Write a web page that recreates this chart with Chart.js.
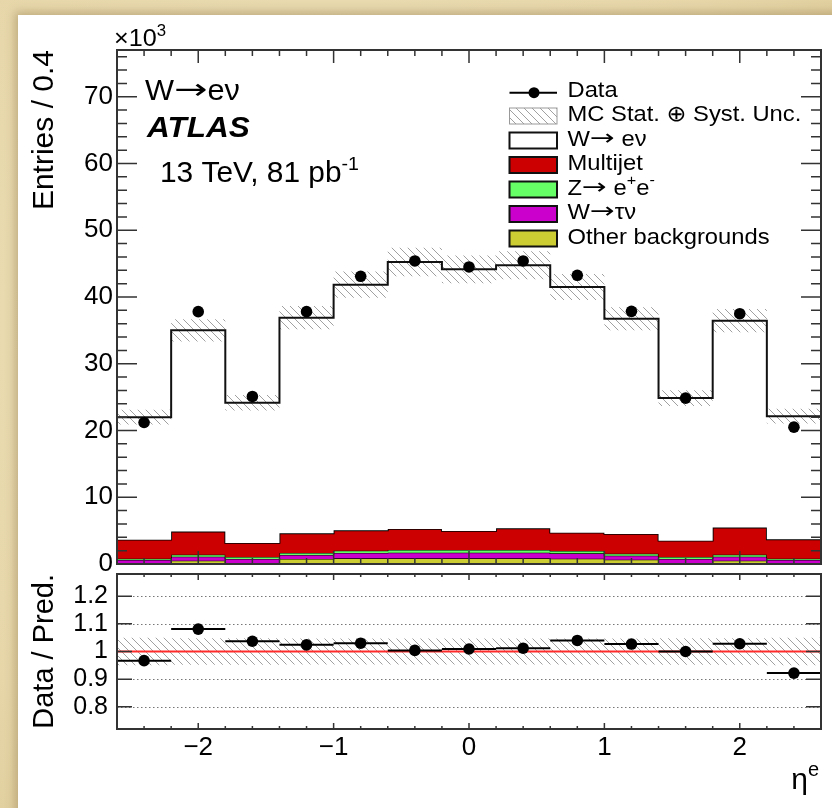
<!DOCTYPE html>
<html><head><meta charset="utf-8">
<script src="https://cdn.jsdelivr.net/npm/chart.js@4.4.1/dist/chart.umd.min.js"></script>
<style>
html,body{margin:0;padding:0;}
body{width:832px;height:808px;overflow:hidden;position:relative;
 background:radial-gradient(ellipse at 40% 40%, #efe2bd 0%, #e6d6a8 70%, #ddca98 100%);}
#card{position:absolute;left:18px;top:15px;width:840px;height:810px;background:#fff;
 box-shadow:0 0 9px 3px rgba(140,115,70,0.45);}
#main{position:absolute;left:0;top:0;}
#ratio{position:absolute;left:0;top:570px;}
</style></head><body>
<div id="card"></div>
<canvas id="main" width="832" height="582"></canvas>
<canvas id="ratio" width="832" height="238"></canvas>
<script>
// ---------- data (entries in units of 10^3 per 0.4 in eta) ----------
const binEdges   = [-2.6,-2.2,-1.8,-1.4,-1.0,-0.6,-0.2,0.2,0.6,1.0,1.4,1.8,2.2,2.6];
const dataCounts = [21.2,37.8,25.1,37.8,43.1,45.4,44.5,45.4,43.25,37.85,24.85,37.5,20.5];
const wenu       = [18.35,30.15,21.0,32.3,36.8,40.0,39.2,39.4,36.8,32.25,21.35,31.0,18.45];
const multijet   = [2.85,3.45,2.1,2.95,3.05,3.15,2.85,3.25,2.75,2.95,2.45,4.05,2.9];
const zee        = [0.2,0.3,0.3,0.3,0.35,0.4,0.4,0.4,0.35,0.3,0.3,0.3,0.2];
const wtaunu     = [0.5,0.6,0.6,0.6,0.8,0.85,0.85,0.85,0.8,0.6,0.6,0.6,0.5];
const otherBkg   = [0.1,0.5,0.15,0.75,0.85,0.85,0.85,0.85,0.8,0.65,0.15,0.5,0.1];
const uncRel     = [0.05,0.048,0.048,0.047,0.047,0.047,0.047,0.047,0.047,0.047,0.048,0.048,0.05];
const ratioVals  = [0.967,1.081,1.037,1.024,1.030,1.004,1.009,1.012,1.040,1.027,1.000,1.028,0.922];
const yTicksMain = [0,10,20,30,40,50,60,70];
const yTicksRatio = [0.8,0.9,1,1.1,1.2];
const yTickRatioLabels = ['0.8','0.9','1','1.1','1.2'];
const xTicks = [-2,-1,0,1,2];
const xTickLabels = ['\u22122','\u22121','0','1','2'];

// ---------- helpers ----------
const FONT = '"Liberation Sans", Arial, Helvetica, sans-serif';
const SYM = '"DejaVu Sans", sans-serif';
const ARROW = '\u2192';
const nb = dataCounts.length;
const centers = binEdges.slice(0, nb).map((e, i) => (e + binEdges[i + 1]) / 2);
const stepPts = vals => vals.map((v, i) => ({x: binEdges[i], y: v})).concat([{x: binEdges[nb], y: vals[nb - 1]}]);
const addArr = (a, b) => a.map((v, i) => v + b[i]);
const c1 = otherBkg.slice();
const c2 = addArr(c1, wtaunu);
const c3 = addArr(c2, zee);
const c4 = addArr(c3, multijet);
const total = addArr(c4, wenu);

function makeHatch(canvasId) {
  const c = document.createElement('canvas');
  c.width = 8; c.height = 8;
  const g = c.getContext('2d');
  g.strokeStyle = '#a0a0a0'; g.lineWidth = 1;
  g.beginPath();
  g.moveTo(-1, -1); g.lineTo(9, 9);
  g.moveTo(-1, 7); g.lineTo(1, 9);
  g.moveTo(7, -1); g.lineTo(9, 1);
  g.stroke();
  return document.getElementById(canvasId).getContext('2d').createPattern(c, 'repeat');
}
const hatchMain = makeHatch('main');
const hatchRatio = makeHatch('ratio');

// parts: {t, sup, f (family), sx (horizontal scale), dy}
function richText(ctx, x, y, parts, size, opts) {
  opts = opts || {};
  const style = opts.style || '';
  const gsx = opts.sx || 1;
  const fnt = p => `${style} ${p.sup ? Math.round(size * 0.66) : size}px ${p.f || FONT}`;
  const widths = parts.map(p => { ctx.font = fnt(p); return ctx.measureText(p.t).width * (p.sx || 1); });
  const tot = widths.reduce((a, b) => a + b, 0) * gsx;
  const x0 = opts.align === 'right' ? x - tot : x;
  ctx.save();
  ctx.translate(x0, y); ctx.scale(gsx, 1);
  ctx.textBaseline = 'alphabetic'; ctx.textAlign = 'left';
  ctx.fillStyle = '#000';
  let px = 0;
  parts.forEach((p, i) => {
    ctx.save();
    ctx.font = fnt(p);
    ctx.translate(px, (p.sup ? -size * 0.42 : 0) + (p.dy || 0));
    ctx.scale(p.sx || 1, 1);
    ctx.fillText(p.t, 0, 0);
    ctx.restore();
    px += widths[i];
  });
  ctx.restore();
}

function drawFrameTicks(chart, cfg) {
  const {ctx, chartArea: a} = chart;
  const x = chart.scales.x, y = chart.scales.y;
  ctx.save();
  ctx.strokeStyle = '#333'; ctx.lineWidth = 1.5;
  ctx.beginPath();
  for (let k = 0; k <= cfg.yN; k++) {
    const v = cfg.y0 + k * cfg.yStep;
    const maj = cfg.yMajor.some(m => Math.abs(m - v) < 1e-6);
    const L = maj ? cfg.yMaj : cfg.yMin;
    const py = y.getPixelForValue(v);
    if (py < a.top + 1 || py > a.bottom - 1) continue;
    ctx.moveTo(a.left, py); ctx.lineTo(a.left + L, py);
    ctx.moveTo(a.right, py); ctx.lineTo(a.right - L, py);
  }
  for (let k = 0; k <= 26; k++) {
    const v = -2.6 + k * 0.2;
    const maj = Math.abs(v - Math.round(v)) < 1e-6;
    const L = maj ? cfg.xMaj : cfg.xMin;
    const px = x.getPixelForValue(v);
    if (px < a.left + 1 || px > a.right - 1) continue;
    ctx.moveTo(px, a.top); ctx.lineTo(px, a.top + L);
    ctx.moveTo(px, a.bottom); ctx.lineTo(px, a.bottom - L);
  }
  ctx.stroke();
  ctx.lineWidth = 2;
  ctx.strokeRect(a.left, a.top, a.right - a.left, a.bottom - a.top);
  ctx.restore();
}

const lineDS = (label, vals, fill, bg, order, bw, bc) => ({
  type: 'line', label, data: stepPts(vals), stepped: 'before', fill: fill,
  backgroundColor: bg, borderColor: bc || '#000', borderWidth: bw, pointRadius: 0, order: order
});
const noPad = s => { s.paddingTop = 0; s.paddingBottom = 0; };

// ---------- main panel ----------
const mainPlugin = {
  id: 'mainDecor',
  afterDatasetsDraw(chart) {
    drawFrameTicks(chart, {y0: 0, yStep: 2, yN: 38, yMajor: yTicksMain, yMaj: 20, yMin: 10, xMaj: 13, xMin: 6});
  },
  afterDraw(chart) {
    const ctx = chart.ctx;
    richText(ctx, 114, 46, [{t: '\u00d710'}, {t: '3', sup: true}], 24, {sx: 1.05});
    ctx.save();
    ctx.translate(53, 50); ctx.rotate(-Math.PI / 2);
    ctx.font = `30px ${FONT}`; ctx.fillStyle = '#000';
    ctx.textAlign = 'right'; ctx.textBaseline = 'alphabetic';
    ctx.fillText('Entries / 0.4', 0, 0);
    ctx.restore();
    richText(ctx, 145, 100, [{t: 'W'}, {t: ARROW, f: SYM, sx: 1.3, dy: -1}, {t: 'e\u03bd'}], 29, {sx: 1.06});
    richText(ctx, 147, 137, [{t: 'ATLAS'}], 30, {style: 'italic bold', sx: 1.05});
    richText(ctx, 160, 182, [{t: '13 TeV, 81 pb'}, {t: '-1', sup: true}], 29, {sx: 1.03});
    // legend
    const bx0 = 509.5, bx1 = 557, tx = 567.5;
    const base = [96.7, 121, 145.5, 170, 194.5, 219, 243.5];
    ctx.save();
    ctx.strokeStyle = '#000'; ctx.lineWidth = 2;
    ctx.beginPath(); ctx.moveTo(bx0, base[0] - 4); ctx.lineTo(bx1, base[0] - 4); ctx.stroke();
    ctx.fillStyle = '#000'; ctx.beginPath(); ctx.arc(534, base[0] - 4, 5.5, 0, Math.PI * 2); ctx.fill();
    const bh = 16;
    const cy = base[1] - 5;
    ctx.fillStyle = hatchMain; ctx.fillRect(bx0, cy - bh / 2, bx1 - bx0, bh);
    ctx.strokeStyle = '#999'; ctx.lineWidth = 1; ctx.strokeRect(bx0, cy - bh / 2, bx1 - bx0, bh);
    const boxCols = ['#ffffff', '#cc0000', '#66ff66', '#cc00cc', '#cccc33'];
    boxCols.forEach((c, i) => {
      const yy = base[i + 2] - 5;
      ctx.fillStyle = c; ctx.fillRect(bx0, yy - bh / 2, bx1 - bx0, bh);
      ctx.strokeStyle = '#111'; ctx.lineWidth = 2; ctx.strokeRect(bx0, yy - bh / 2, bx1 - bx0, bh);
    });
    ctx.restore();
    const ls = 22, o = {sx: 1.08};
    const arr = {t: ARROW, f: SYM, sx: 1.25, dy: -1};
    richText(ctx, tx, base[0], [{t: 'Data'}], ls, o);
    richText(ctx, tx, base[1], [{t: 'MC Stat. '}, {t: '\u2295', f: SYM}, {t: ' Syst. Unc.'}], ls, o);
    richText(ctx, tx, base[2], [{t: 'W'}, arr, {t: ' e\u03bd'}], ls, o);
    richText(ctx, tx, base[3], [{t: 'Multijet'}], ls, o);
    richText(ctx, tx, base[4], [{t: 'Z'}, arr, {t: ' e'}, {t: '+', sup: true}, {t: 'e'}, {t: '-', sup: true}], ls, o);
    richText(ctx, tx, base[5], [{t: 'W'}, arr, {t: '\u03c4\u03bd'}], ls, o);
    richText(ctx, tx, base[6], [{t: 'Other backgrounds'}], ls, o);
  }
};

new Chart(document.getElementById('main'), {
  type: 'line',
  data: {
    datasets: [
      lineDS('Other backgrounds', c1, 'origin', '#cccc33', 20, 1.2),
      lineDS('W\u2192\u03c4\u03bd', c2, '-1', '#cc00cc', 19, 1.2),
      lineDS('Z\u2192ee', c3, '-1', '#66ff66', 18, 1.2),
      lineDS('Multijet', c4, '-1', '#cc0000', 17, 1.8),
      lineDS('W\u2192e\u03bd', total, '-1', '#ffffff', 16, 0, 'rgba(0,0,0,0)'),
      lineDS('unc up', total.map((v, i) => v * (1 + uncRel[i])), false, 'rgba(0,0,0,0)', 15, 0, 'rgba(0,0,0,0)'),
      lineDS('unc down', total.map((v, i) => v * (1 - uncRel[i])), '-1', hatchMain, 14, 0, 'rgba(0,0,0,0)'),
      lineDS('MC total', total, false, 'rgba(0,0,0,0)', 13, 2, '#111'),
      {type: 'scatter', label: 'Data', data: centers.map((c, i) => ({x: c, y: dataCounts[i]})),
       pointRadius: 5.8, pointBackgroundColor: '#000', pointBorderColor: '#000', pointBorderWidth: 0, showLine: false, order: 1}
    ]
  },
  options: {
    responsive: false, animation: false, devicePixelRatio: 1,
    layout: {padding: {top: 50, right: 11, bottom: 18, left: 0}},
    plugins: {legend: {display: false}, tooltip: {enabled: false}},
    scales: {
      x: {type: 'linear', min: -2.6, max: 2.6, display: false},
      y: {type: 'linear', min: 0, max: 77,
          afterBuildTicks: s => { s.ticks = yTicksMain.map(v => ({value: v})); },
          afterFit: s => { s.width = 117; noPad(s); },
          ticks: {autoSkip: false, padding: 4, color: '#000', font: {family: FONT, size: 26}, callback: v => String(v)},
          grid: {display: false, drawTicks: false}, border: {display: false}}
    }
  },
  plugins: [mainPlugin]
});

// ---------- ratio panel ----------
const ratioPlugin = {
  id: 'ratioDecor',
  beforeDatasetsDraw(chart) {
    const {ctx, chartArea: a} = chart;
    const y = chart.scales.y;
    ctx.save();
    ctx.strokeStyle = '#777'; ctx.lineWidth = 1; ctx.setLineDash([1.5, 2.5]);
    yTicksRatio.forEach(v => {
      if (Math.abs(v - 1) < 1e-6) return;
      const py = Math.round(y.getPixelForValue(v)) + 0.5;
      ctx.beginPath(); ctx.moveTo(a.left, py); ctx.lineTo(a.right, py); ctx.stroke();
    });
    ctx.restore();
  },
  afterDatasetsDraw(chart) {
    const {ctx} = chart;
    const x = chart.scales.x, y = chart.scales.y;
    ctx.save();
    ctx.strokeStyle = '#000'; ctx.lineWidth = 2;
    ctx.beginPath();
    ratioVals.forEach((r, i) => {
      const py = y.getPixelForValue(r);
      ctx.moveTo(x.getPixelForValue(binEdges[i]), py);
      ctx.lineTo(x.getPixelForValue(binEdges[i + 1]), py);
    });
    ctx.stroke();
    ctx.fillStyle = '#000';
    ratioVals.forEach((r, i) => {
      ctx.beginPath(); ctx.arc(x.getPixelForValue(centers[i]), y.getPixelForValue(r), 5.8, 0, Math.PI * 2); ctx.fill();
    });
    ctx.restore();
    drawFrameTicks(chart, {y0: 0.8, yStep: 0.1, yN: 4, yMajor: yTicksRatio, yMaj: 15, yMin: 15, xMaj: 6, xMin: 3});
  },
  afterDraw(chart) {
    const ctx = chart.ctx;
    ctx.save();
    ctx.translate(53, 4); ctx.rotate(-Math.PI / 2);
    ctx.font = `29px ${FONT}`; ctx.fillStyle = '#000';
    ctx.textAlign = 'right'; ctx.textBaseline = 'alphabetic';
    ctx.fillText('Data / Pred.', 0, 0);
    ctx.restore();
    richText(ctx, 819, 219, [{t: '\u03b7'}, {t: 'e', sup: true}], 30, {align: 'right'});
  }
};

new Chart(document.getElementById('ratio'), {
  type: 'line',
  data: {
    datasets: [
      lineDS('unc up', uncRel.map(u => 1 + u), false, 'rgba(0,0,0,0)', 10, 0, 'rgba(0,0,0,0)'),
      lineDS('unc down', uncRel.map(u => 1 - u), '-1', hatchRatio, 9, 0, 'rgba(0,0,0,0)'),
      {type: 'line', label: 'unity', data: [{x: -2.6, y: 1}, {x: 2.6, y: 1}], borderColor: '#ff2a2a', borderWidth: 2, pointRadius: 0, fill: false, order: 8},
      {type: 'scatter', label: 'Data / Pred.', data: centers.map((c, i) => ({x: c, y: ratioVals[i]})),
       pointRadius: 0, showLine: false, order: 1}
    ]
  },
  options: {
    responsive: false, animation: false, devicePixelRatio: 1,
    layout: {padding: {top: 4, right: 11, bottom: 0, left: 0}},
    plugins: {legend: {display: false}, tooltip: {enabled: false}},
    scales: {
      x: {type: 'linear', min: -2.6, max: 2.6,
          afterBuildTicks: s => { s.ticks = xTicks.map(v => ({value: v})); },
          afterFit: s => { s.height = 79; s.paddingLeft = 0; s.paddingRight = 0; },
          ticks: {autoSkip: false, maxRotation: 0, padding: 3, color: '#000', font: {family: FONT, size: 26},
                  callback: v => xTickLabels[xTicks.indexOf(v)]},
          grid: {display: false, drawTicks: false}, border: {display: false}},
      y: {type: 'linear', min: 0.72, max: 1.28,
          afterBuildTicks: s => { s.ticks = yTicksRatio.map(v => ({value: v})); },
          afterFit: s => { s.width = 117; noPad(s); },
          ticks: {autoSkip: false, padding: 9, color: '#000', font: {family: FONT, size: 25},
                  callback: v => yTickRatioLabels[yTicksRatio.findIndex(t => Math.abs(t - v) < 1e-6)]},
          grid: {display: false, drawTicks: false}, border: {display: false}}
    }
  },
  plugins: [ratioPlugin]
});
</script>
</body></html>
